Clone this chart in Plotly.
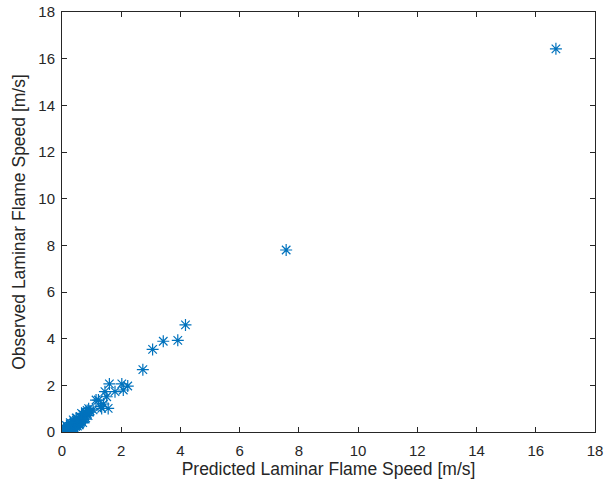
import plotly.graph_objects as go

predicted = [16.68, 7.57, 4.17, 3.91, 3.42, 3.06, 2.73, 2.22, 2.02, 2.07, 1.60, 1.79,
             1.51, 1.45, 1.23, 1.56, 1.34, 1.15, 1.40, 1.30, 1.05, 0.95, 0.90, 0.85,
             0.80, 0.75, 0.70, 0.68, 0.62, 0.60, 0.55, 0.52, 0.50, 0.48, 0.45, 0.42,
             0.40, 0.38, 0.35, 0.33, 0.30, 0.28, 0.25, 0.22, 0.20, 0.18, 0.15, 0.12,
             0.10, 0.08, 0.06, 0.05, 0.30, 0.45, 0.55, 0.65, 0.40, 0.25, 0.15, 0.72,
             0.58, 0.35, 0.20, 0.10, 0.50, 0.62, 0.80, 0.88, 0.70, 0.78, 0.60, 0.52,
             0.42, 0.32, 0.22, 0.12, 0.05, 0.15, 0.38, 0.66, 0.85, 0.92, 0.48, 0.28]
observed = [16.42, 7.80, 4.59, 3.93, 3.89, 3.54, 2.67, 1.97, 2.06, 1.80, 2.06, 1.73,
            1.51, 1.73, 1.37, 1.01, 1.01, 1.37, 1.20, 1.10, 0.95, 0.90, 1.00, 0.80,
            0.85, 0.70, 0.75, 0.60, 0.65, 0.50, 0.55, 0.45, 0.40, 0.50, 0.35, 0.42,
            0.30, 0.38, 0.28, 0.25, 0.32, 0.20, 0.22, 0.15, 0.18, 0.10, 0.12, 0.08,
            0.10, 0.05, 0.06, 0.03, 0.15, 0.25, 0.35, 0.45, 0.20, 0.10, 0.05, 0.55,
            0.30, 0.18, 0.08, 0.02, 0.28, 0.40, 0.60, 0.70, 0.40, 0.55, 0.35, 0.25,
            0.15, 0.05, 0.02, 0.00, 0.15, 0.28, 0.52, 0.80, 0.92, 0.85, 0.60, 0.40]

tick_vals = list(range(0, 19, 2))

fig = go.Figure(go.Scatter(
    x=predicted, y=observed, mode="markers",
    marker=dict(symbol="asterisk-open", size=10, color="#0072BD",
                line=dict(color="#0072BD", width=1.2)),
    showlegend=False,
))

axis_common = dict(
    range=[0, 18], tickvals=tick_vals, ticks="inside", ticklen=5,
    tickcolor="#262626", tickwidth=1, showline=True, linecolor="#262626",
    linewidth=1, mirror="ticks", showgrid=False, zeroline=False, automargin=False,
    tickfont=dict(family="Liberation Sans, Arial", size=15, color="#262626"),
    title_font=dict(family="Liberation Sans, Arial", size=17.5, color="#262626"),
)

fig.update_xaxes(title_text="Predicted Laminar Flame Speed [m/s]", title_standoff=4,
                 ticklabelstandoff=5, **axis_common)
fig.update_yaxes(title_text="Observed Laminar Flame Speed [m/s]", title_standoff=8,
                 ticklabelstandoff=3, **axis_common)

fig.update_layout(
    width=606, height=492,
    margin=dict(l=62, r=11, t=12, b=60),
    paper_bgcolor="white", plot_bgcolor="white",
)

fig.write_html("out.html")
